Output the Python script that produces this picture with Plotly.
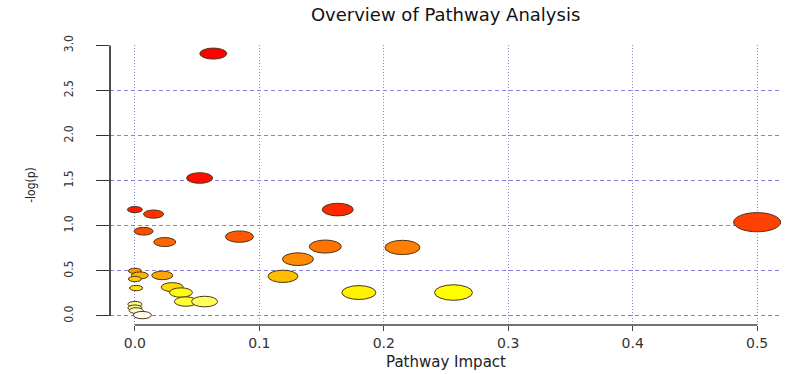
import colorsys
import plotly.graph_objects as go

# ---- data ----
impact = [0.063, 0.052, 0.000, 0.015, 0.163, 0.007, 0.024, 0.084, 0.500,
          0.153, 0.215, 0.131, 0.119, 0.180, 0.256, 0.022, 0.000, 0.004,
          0.000, 0.001, 0.030, 0.037, 0.041, 0.056, 0.000, 0.000, 0.001,
          0.006]
neglogp = [2.91, 1.53, 1.18, 1.13, 1.18, 0.94, 0.82, 0.88, 1.04,
           0.77, 0.76, 0.63, 0.44, 0.26, 0.26, 0.45, 0.50, 0.45,
           0.41, 0.31, 0.32, 0.26, 0.16, 0.16, 0.13, 0.09, 0.06,
           0.01]
# bubble widths in pixels (style)
bubble_w = [27, 26, 15, 20, 31, 19, 22, 28, 47,
            32, 35, 31, 30, 34, 38, 21, 13, 17,
            13, 13, 22, 23, 23, 26, 14, 14, 14,
            18]
x_ticks = [0.0, 0.1, 0.2, 0.3, 0.4, 0.5]
x_ticklabels = ["0.0", "0.1", "0.2", "0.3", "0.4", "0.5"]
y_ticks = [0.0, 0.5, 1.0, 1.5, 2.0, 2.5, 3.0]
y_ticklabels = ["0.0", "0.5", "1.0", "1.5", "2.0", "2.5", "3.0"]

ASPECT = 2.45  # ellipses are stretched horizontally in the reference


# R's heat.colors(n), assigned by significance rank
def heat_colors(n):
    j = n // 4
    i = n - j
    cols = []
    for k in range(i):
        h = (1 / 6) * k / (i - 1) if i > 1 else 0
        cols.append(colorsys.hsv_to_rgb(h, 1, 1))
    for k in range(j):
        s0, s1 = 1 - 1 / (2 * j), 1 / (2 * j)
        s = s0 + (s1 - s0) * k / (j - 1) if j > 1 else s0
        cols.append(colorsys.hsv_to_rgb(1 / 6, s, 1))
    return ["rgb(%d,%d,%d)" % (round(r * 255), round(g * 255), round(b * 255)) for r, g, b in cols]


n = len(neglogp)
order = sorted(range(n), key=lambda k: -neglogp[k])
pal = heat_colors(n)
colors = [None] * n
for rank, k in enumerate(order):
    colors[k] = pal[rank]

fig = go.Figure()

# hover layer for the points
fig.add_trace(go.Scatter(
    x=impact, y=neglogp, mode="markers",
    marker=dict(size=[w / ASPECT for w in bubble_w], color="rgba(0,0,0,0)"),
    hovertemplate="Impact: %{x}<br>-log(p): %{y}<extra></extra>",
    showlegend=False,
))

shapes = []
# bubbles drawn as ellipses anchored at the data positions
for xi, yi, w, c in zip(impact, neglogp, bubble_w, colors):
    h = w / ASPECT
    shapes.append(dict(
        type="circle", xref="x", yref="y",
        xsizemode="pixel", ysizemode="pixel",
        xanchor=xi, yanchor=yi,
        x0=-w / 2, x1=w / 2, y0=-h / 2, y1=h / 2,
        fillcolor=c, line=dict(color="#4d3418", width=1),
    ))

# R-style axis lines spanning the tick range only
shapes.append(dict(type="line", xref="x", yref="paper",
                   x0=x_ticks[0], x1=x_ticks[-1], y0=0, y1=0,
                   line=dict(color="#444444", width=1.3)))
shapes.append(dict(type="line", xref="paper", yref="y",
                   x0=0, x1=0, y0=y_ticks[0], y1=y_ticks[-1],
                   line=dict(color="#222222", width=1.6)))

grid_col = "#8282dc"
fig.update_layout(
    width=800, height=374,
    margin=dict(l=110, r=18, t=45, b=49),
    paper_bgcolor="white", plot_bgcolor="white",
    title=dict(text="Overview of Pathway Analysis", x=0.557, xanchor="center",
               y=0.962, yanchor="middle", automargin=False,
               font=dict(family="DejaVu Sans", size=18, color="#111111")),
    xaxis=dict(
        range=[-0.02, 0.52], tickvals=x_ticks, ticktext=x_ticklabels,
        automargin=False,
        showgrid=True, gridcolor=grid_col, griddash="1px,2px", gridwidth=1.2,
        zeroline=False, showline=False,
        ticks="outside", ticklen=5, tickcolor="#444444", tickwidth=1,
        tickfont=dict(family="DejaVu Sans", size=14, color="#333333"),
        title=dict(text="Pathway Impact", standoff=6,
                   font=dict(family="DejaVu Sans", size=15, color="#222222")),
    ),
    yaxis=dict(
        range=[-0.1, 3.005], tickvals=y_ticks, ticktext=y_ticklabels,
        automargin=False,
        showgrid=True, gridcolor=grid_col, griddash="4px,3px", gridwidth=1.2,
        zeroline=False, showline=False,
        ticks="outside", ticklen=13, tickcolor="#333333", tickwidth=1,
        tickangle=-90, ticklabelstandoff=18,
        tickfont=dict(family="Liberation Sans Narrow, DejaVu Sans Condensed, sans-serif",
                      size=12, color="#333333"),
        title=dict(text="-log(p)", standoff=24,
                   font=dict(family="Liberation Sans Narrow, DejaVu Sans Condensed, sans-serif",
                             size=12, color="#222222")),
    ),
    shapes=shapes,
)

fig.write_html("out.html", config={"displayModeBar": False},
               post_script="document.body.style.margin='0';document.body.style.overflow='hidden';")
